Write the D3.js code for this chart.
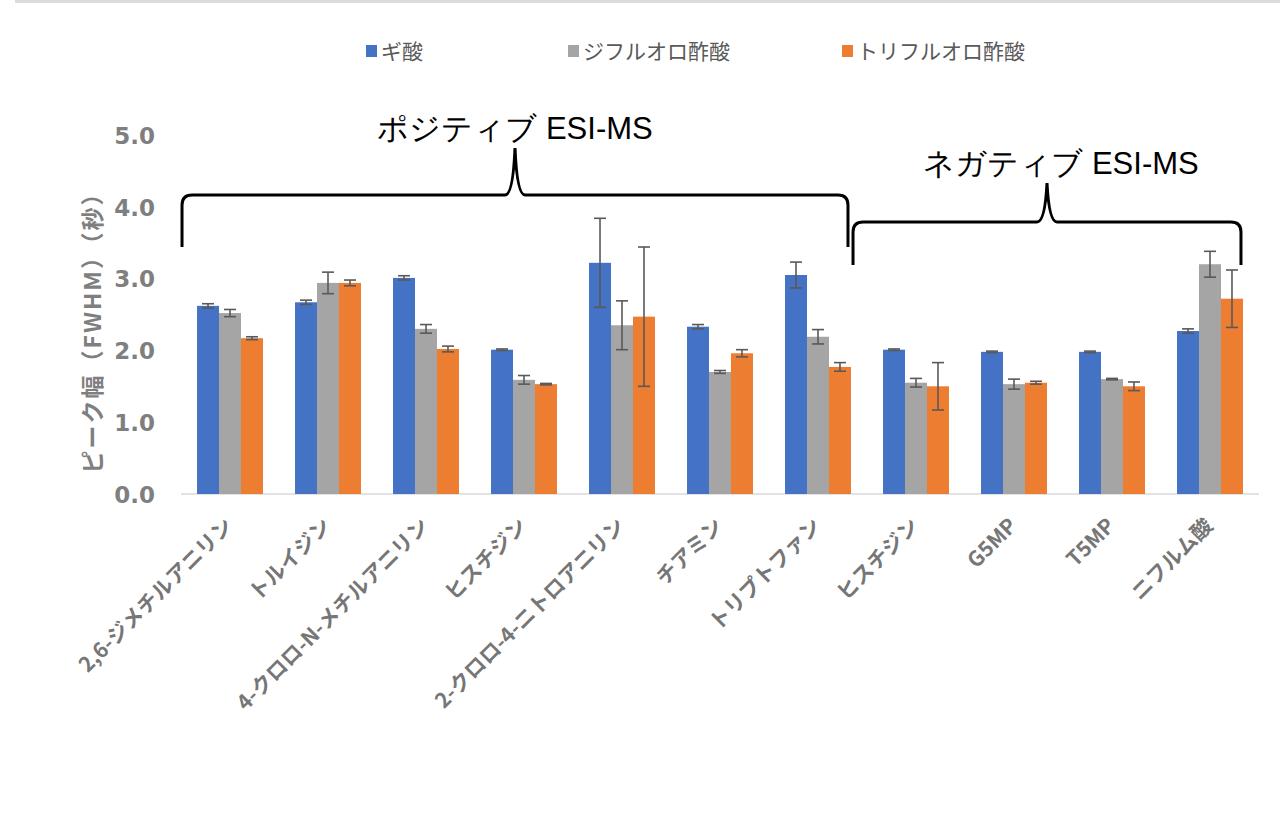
<!DOCTYPE html>
<html>
<head>
<meta charset="utf-8">
<script src="https://cdn.jsdelivr.net/npm/d3@7/dist/d3.min.js"></script>
<style>
  html, body { margin: 0; padding: 0; background: #ffffff; }
  svg { display: block; }
</style>
</head>
<body>
<svg id="chart" width="1280" height="814"></svg>
<script>
// ---- data ----
const categories = ["2,6-ジメチルアニリン", "トルイジン", "4-クロロ-N-メチルアニリン", "ヒスチジン", "2-クロロ-4-ニトロアニリン", "チアミン", "トリプトファン", "ヒスチジン ", "G5MP", "T5MP", "ニフルム酸"];
const seriesNames = ["ギ酸", "ジフルオロ酢酸", "トリフルオロ酢酸"];
const formicValues = [2.62, 2.67, 3.01, 2.01, 3.22, 2.33, 3.05, 2.01, 1.98, 1.98, 2.27];
const formicErrors = [0.03, 0.03, 0.03, 0.01, 0.62, 0.03, 0.18, 0.01, 0.01, 0.01, 0.03];
const dfaValues = [2.52, 2.94, 2.30, 1.59, 2.35, 1.70, 2.19, 1.55, 1.53, 1.60, 3.20];
const dfaErrors = [0.05, 0.15, 0.06, 0.06, 0.34, 0.02, 0.10, 0.06, 0.07, 0.01, 0.18];
const tfaValues = [2.17, 2.94, 2.02, 1.53, 2.47, 1.96, 1.77, 1.50, 1.55, 1.50, 2.72];
const tfaErrors = [0.02, 0.04, 0.04, 0.01, 0.97, 0.05, 0.06, 0.33, 0.02, 0.06, 0.40];
const yTicks = [0, 1, 2, 3, 4, 5];
const yTitle = "ピーク幅（FWHM）（秒）";
const groupLabels = ["ポジティブ ESI-MS", "ネガティブ ESI-MS"];
const groupRanges = [[0, 6], [7, 10]];

const colors = ["#4472C4", "#A5A5A5", "#ED7D31"];
const seriesValues = [formicValues, dfaValues, tfaValues];
const seriesErrors = [formicErrors, dfaErrors, tfaErrors];

const svg = d3.select("#chart");
const jp = "'Noto Sans CJK JP', 'Noto Sans', sans-serif";

// top frame line
svg.append("rect").attr("x", 15).attr("y", 0).attr("width", 1265).attr("height", 3).attr("fill", "#dcdcdc");

const x0 = d3.scaleBand().domain(categories.map((d, i) => i)).range([181, 1259]).paddingInner(0.327).paddingOuter(0.1635);
const x1 = d3.scaleBand().domain(seriesNames.map((d, i) => i)).range([0, x0.bandwidth()]).padding(0);
const y = d3.scaleLinear().domain([0, 5]).range([494, 135]);

// x axis baseline
svg.append("line").attr("x1", 181).attr("x2", 1259).attr("y1", y(0)).attr("y2", y(0))
  .attr("stroke", "#d9d9d9").attr("stroke-width", 1.5);

// y axis labels
const yAxis = d3.axisLeft(y).tickValues(yTicks).tickFormat(d3.format(".1f")).tickSize(0).tickPadding(0);
const yg = svg.append("g").attr("transform", "translate(155,0)").call(yAxis);
yg.select(".domain").remove();
yg.selectAll("text").attr("font-family", "'DejaVu Sans', sans-serif").attr("font-weight", "bold")
  .attr("font-size", 23).attr("fill", "#7f7f7f").attr("dy", "0.36em");

// y title
svg.append("text").attr("transform", "translate(101,327) rotate(-90)")
  .attr("text-anchor", "middle").attr("font-family", jp).attr("font-weight", "bold")
  .attr("font-size", 23).attr("letter-spacing", 2).attr("fill", "#7f7f7f").text(yTitle);

// bars
const groups = svg.append("g").selectAll("g").data(categories).join("g")
  .attr("transform", (d, i) => `translate(${x0(i)},0)`);
groups.each(function(cat, ci) {
  const g = d3.select(this);
  seriesNames.forEach((s, si) => {
    const v = seriesValues[si][ci];
    g.append("rect").attr("x", x1(si)).attr("width", x1.bandwidth())
      .attr("y", y(v)).attr("height", y(0) - y(v)).attr("fill", colors[si]);
  });
});
// error bars
groups.each(function(cat, ci) {
  const g = d3.select(this);
  seriesNames.forEach((s, si) => {
    const v = seriesValues[si][ci], e = seriesErrors[si][ci];
    const cx = x1(si) + x1.bandwidth() / 2;
    const eb = g.append("g").attr("stroke", "#595959").attr("stroke-width", 1.6);
    eb.append("line").attr("x1", cx).attr("x2", cx).attr("y1", y(v - e)).attr("y2", y(v + e));
    eb.append("line").attr("x1", cx - 6).attr("x2", cx + 6).attr("y1", y(v - e)).attr("y2", y(v - e));
    eb.append("line").attr("x1", cx - 6).attr("x2", cx + 6).attr("y1", y(v + e)).attr("y2", y(v + e));
  });
});

// x labels
svg.append("g").selectAll("text").data(categories).join("text")
  .attr("transform", (d, i) => `translate(${x0(i) + x0.bandwidth() / 2 - 1},${522}) rotate(-45)`)
  .attr("text-anchor", "end").attr("dy", "0.35em")
  .attr("font-family", jp).attr("font-weight", "bold").attr("font-size", 21).attr("fill", "#767676")
  .text(d => d.trim());

// braces
function bracePath(xl, xr, xm, yh, yb, ytip) {
  const r = 10;
  return `M${xl},${yb} L${xl},${yh + r} Q${xl},${yh} ${xl + r},${yh} L${xm - 10},${yh} Q${xm - 2},${yh} ${xm},${ytip}` +
         ` Q${xm + 2},${yh} ${xm + 10},${yh} L${xr - r},${yh} Q${xr},${yh} ${xr},${yh + r} L${xr},${yb}`;
}
const braceGeo = [
  { xl: x0(groupRanges[0][0]) - 15, xr: x0(groupRanges[0][1]) + x0.bandwidth() - 3, yh: 195, yb: 247, ytip: 148, ty: 128, tdx: 0 },
  { xl: x0(groupRanges[1][0]) - 30, xr: x0(groupRanges[1][1]) + x0.bandwidth() - 2, yh: 222, yb: 265, ytip: 183, ty: 163, tdx: 14 }
];
braceGeo.forEach((b, i) => {
  const xm = (b.xl + b.xr) / 2;
  svg.append("path").attr("d", bracePath(b.xl, b.xr, xm, b.yh, b.yb, b.ytip))
    .attr("fill", "none").attr("stroke", "#000").attr("stroke-width", 3);
  svg.append("text").attr("x", xm + b.tdx).attr("y", b.ty).attr("dy", "0.35em")
    .attr("text-anchor", "middle").attr("font-family", "'Liberation Sans', Arial, sans-serif")
    .attr("font-size", 31).attr("fill", "#000").text(groupLabels[i]);
});

// legend
const legendX = [366, 568, 842];
const lg = svg.append("g").selectAll("g").data(seriesNames).join("g")
  .attr("transform", (d, i) => `translate(${legendX[i]},45)`);
lg.append("rect").attr("width", 11).attr("height", 12).attr("fill", (d, i) => colors[i]);
lg.append("text").attr("x", 15).attr("y", 6).attr("dy", "0.36em")
  .attr("font-family", jp).attr("font-size", 21).attr("fill", "#595959").text(d => d);
</script>
</body>
</html>
